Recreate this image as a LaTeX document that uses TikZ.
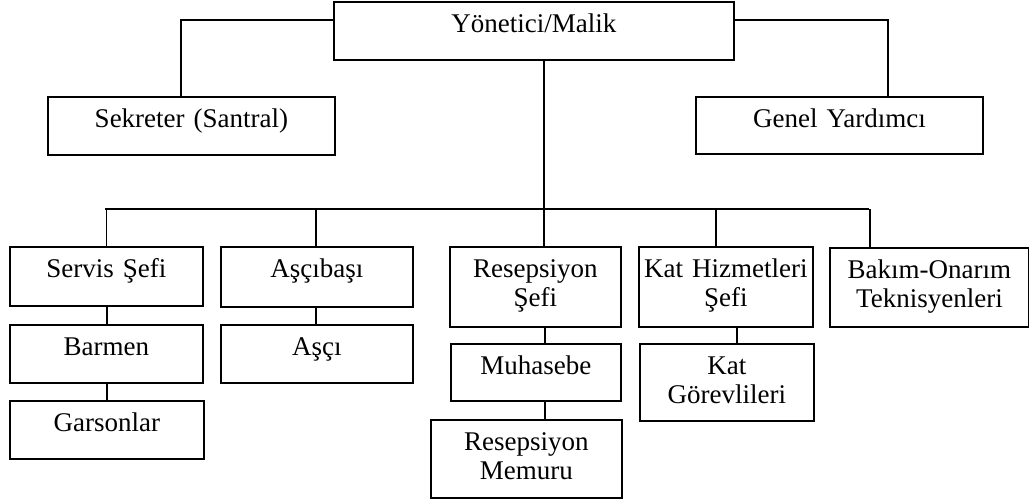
\documentclass[tikz,border=0pt]{standalone}
\usepackage{fontspec}
\setmainfont{Liberation Serif}
\begin{document}
\begin{tikzpicture}[x=1pt,y=-1pt,
  orgunit/.style={draw, line width=1.9pt, inner sep=0pt, align=center,
    font=\fontsize{27}{29}\selectfont, text height=31pt, anchor=north west},
  link/.style={line width=1.9pt}]
% box: name, left, top, right, bottom, text (first baseline 31pt below the top edge)
\newcommand\orgbox[6]{%
  \node[orgunit, minimum width={#4-#2}, minimum height={#5-#3},
        text width={#4-#2-2}, text depth={#5-#3-31}] (#1) at (#2,#3) {#6};}
\useasboundingbox (0,0) rectangle (1029,502);

\orgbox{yon}{333}{1}{733}{59}{Yönetici/Malik}
\orgbox{sek}{47}{96}{334}{154}{Sekreter (Santral)}
\orgbox{gen}{695}{96}{982}{153}{Genel Yardımcı}

\orgbox{servis}{9}{246}{202}{305}{Servis Şefi}
\orgbox{barmen}{9}{324}{202}{382}{Barmen}
\orgbox{garson}{9}{400}{203}{458}{Garsonlar}

\orgbox{ascib}{220}{246}{412}{306}{Aşçıbaşı}
\orgbox{asci}{220}{324}{412}{382}{Aşçı}

\orgbox{resef}{449}{246}{620}{326}{Resepsiyon\\Şefi}
\orgbox{muh}{450}{343}{620}{400}{Muhasebe}
\orgbox{remem}{430}{419}{621}{497}{Resepsiyon\\Memuru}

\orgbox{katsef}{638}{246}{812}{326}{Kat Hizmetleri\\Şefi}
\orgbox{katgor}{639}{343}{813}{420}{Kat\\Görevlileri}

\orgbox{bakim}{829}{247}{1028}{326}{Bakım-Onarım\\Teknisyenleri}

% staff links from the top box
\draw[link] ([yshift=-19pt]yon.north west) -| ([xshift=-10.5pt]sek.north);
\draw[link] ([yshift=-19pt]yon.north east) -| ([xshift=48.5pt]gen.north);

% department bus
\coordinate (busL) at (105,209);
\coordinate (busR) at (869,209);
\coordinate (trunk) at ([xshift=10pt]yon.south);
\draw[link] (busL) -- (busR);
\draw[link] (trunk) -- (trunk |- resef.north);
\draw[link] (servis.north) -- (servis.north |- busL);
\draw[link] ([xshift=-1pt]ascib.north) -- ([xshift=-1pt]ascib.north |- busL);
\coordinate (katdrop) at ([xshift=-10pt]katsef.north);
\draw[link] (katdrop) -- (katdrop |- busL);
\coordinate (bakdrop) at ([xshift=-59.5pt]bakim.north);
\draw[link] (bakdrop) -- (bakdrop |- busR);

% chains inside departments
\draw[link] ([xshift=0.5pt]servis.south) -- ([xshift=0.5pt]barmen.north);
\draw[link] ([xshift=0.5pt]barmen.south) -- ([xshift=0pt]garson.north);
\draw[link] ([xshift=-1pt]ascib.south) -- ([xshift=-1pt]asci.north);
\coordinate (rdrop) at ([xshift=9.5pt]resef.south);
\draw[link] (rdrop) -- (rdrop |- muh.north);
\coordinate (mdrop) at ([xshift=9pt]muh.south);
\draw[link] (mdrop) -- (mdrop |- remem.north);
\coordinate (kdrop) at ([xshift=11pt]katsef.south);
\draw[link] (kdrop) -- (kdrop |- katgor.north);
\end{tikzpicture}
\end{document}
